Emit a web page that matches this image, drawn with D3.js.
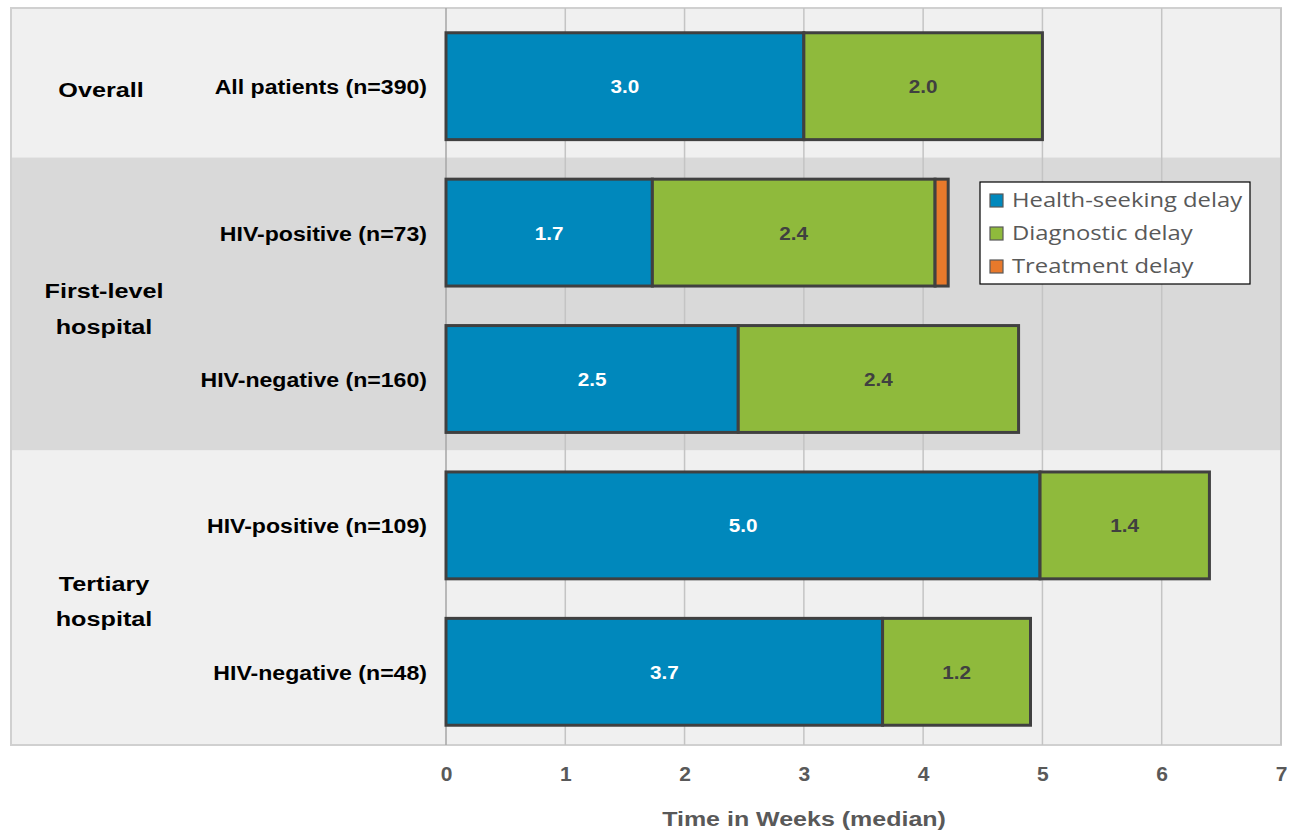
<!DOCTYPE html>
<html>
<head>
<meta charset="utf-8">
<script src="https://cdn.jsdelivr.net/npm/d3@7"></script>
<style>
  body { margin: 0; background: #fff; }
</style>
</head>
<body>
<div id="chart"></div>
<script>
// data
const rowLabels = ["All patients (n=390)", "HIV-positive (n=73)", "HIV-negative (n=160)", "HIV-positive (n=109)", "HIV-negative (n=48)"];
const rowGroup = [0, 1, 1, 2, 2];
const groupLabels = [["Overall"], ["First-level", "hospital"], ["Tertiary", "hospital"]];
const seriesNames = ["Health-seeking delay", "Diagnostic delay", "Treatment delay"];
const healthSeeking = [3.0, 1.73, 2.45, 4.98, 3.66];
const diagnostic = [2.0, 2.37, 2.35, 1.42, 1.24];
const treatment = [0, 0.11, 0, 0, 0];
const xTicks = [0, 1, 2, 3, 4, 5, 6, 7];

const colors = ["#0088bc", "#8fba3c", "#e8792b"];
const labelColors = ["#ffffff", "#404040", "#404040"];

const width = 1302, height = 831;
const plotLeft = 446, plotRight = 1281, plotTop = 13, plotBottom = 745;
const font = "Liberation Sans, Arial, sans-serif";

const svg = d3.select("#chart").append("svg")
    .attr("width", width)
    .attr("height", height);

// the original text is drawn a bit wide, so stretch it around its anchor
function stretch(sel, sx) {
    sel.each(function() {
        let t = d3.select(this);
        let tx = +t.attr("x") || 0, ty = +t.attr("y") || 0;
        t.attr("x", 0).attr("y", 0)
         .attr("transform", `translate(${tx},${ty}) scale(${sx},1)`);
    });
}

const x = d3.scaleLinear().domain([0, 7]).range([plotLeft, plotRight]);
const y = d3.scaleBand().domain(d3.range(rowLabels.length)).range([plotTop, plotBottom]).paddingInner(0.27).paddingOuter(0.135);

// group bands
const groups = groupLabels.map((g, i) => {
    let rows = rowGroup.map((r, j) => r == i ? j : -1).filter(j => j >= 0);
    let y0 = y(rows[0]) - y.step() * y.paddingInner() / 2 - 2;
    let y1 = y(rows[rows.length - 1]) + y.bandwidth() + y.step() * y.paddingInner() / 2;
    if (i == 0) y0 = 8;
    if (i == groupLabels.length - 1) y1 = plotBottom;
    return {lines: g, y0: y0, y1: y1, i: i};
});
groups[0].y1 = groups[1].y0;

svg.append("g").selectAll("rect")
    .data(groups)
    .join("rect")
    .attr("x", 11)
    .attr("width", plotRight - 11)
    .attr("y", d => d.y0)
    .attr("height", d => d.y1 - d.y0)
    .attr("fill", d => d.i == 1 ? "#d9d9d9" : "#f0f0f0");

svg.append("rect")
    .attr("x", 11).attr("y", 8)
    .attr("width", plotRight - 11).attr("height", plotBottom - 8)
    .attr("fill", "none")
    .attr("stroke", "#d0d0d0")
    .attr("stroke-width", 2);

// gridlines
svg.append("g").selectAll("line")
    .data(xTicks)
    .join("line")
    .attr("x1", d => x(d)).attr("x2", d => x(d))
    .attr("y1", 8).attr("y2", plotBottom)
    .attr("stroke", d => d == 0 ? "#a6a6a6" : "#c4c4c4")
    .attr("stroke-width", 1.5);

// stacked bars
const table = rowLabels.map((r, i) => ({label: r, values: [healthSeeking[i], diagnostic[i], treatment[i]]}));
const stack = d3.stack().keys([0, 1, 2]).value((d, k) => d.values[k]);
const series = stack(table);

const layer = svg.append("g").selectAll("g")
    .data(series)
    .join("g")
    .attr("fill", (d, i) => colors[i]);

layer.selectAll("rect")
    .data(d => d.map((s, row) => ({s: s, row: row})).filter(e => e.s[1] - e.s[0] > 0))
    .join("rect")
    .attr("x", d => x(d.s[0]))
    .attr("width", d => x(d.s[1]) - x(d.s[0]))
    .attr("y", d => y(d.row))
    .attr("height", y.bandwidth())
    .attr("stroke", "#404040")
    .attr("stroke-width", 3);

// value labels (not on the thin treatment segment)
series.forEach((ser, k) => {
    if (k == 2) return;
    let lbl = svg.append("g").selectAll("text")
        .data(ser.map((s, row) => ({s: s, row: row})))
        .join("text")
        .attr("x", d => (x(d.s[0]) + x(d.s[1])) / 2)
        .attr("y", d => y(d.row) + y.bandwidth() / 2 + 7)
        .attr("text-anchor", "middle")
        .attr("font-family", font)
        .attr("font-weight", "bold")
        .attr("font-size", 19)
        .attr("fill", labelColors[k])
        .text(d => (d.s[1] - d.s[0]).toFixed(1));
    stretch(lbl, 1.09);
});

// row labels
const rl = svg.append("g").selectAll("text")
    .data(rowLabels)
    .join("text")
    .attr("x", 427)
    .attr("y", (d, i) => y(i) + y.bandwidth() / 2 + 8)
    .attr("text-anchor", "end")
    .attr("font-family", font)
    .attr("font-weight", "bold")
    .attr("font-size", 21)
    .attr("fill", "#000")
    .text(d => d);
stretch(rl, 1.1);

// group labels
const gl = svg.append("g").selectAll("text")
    .data(groups)
    .join("text")
    .attr("x", d => d.i == 0 ? 101 : 104)
    .attr("y", d => (d.y0 + d.y1) / 2 + (d.i == 0 ? 14 : 11))
    .attr("text-anchor", "middle")
    .attr("font-family", font)
    .attr("font-weight", "bold")
    .attr("font-size", 21)
    .attr("fill", "#000");
gl.selectAll("tspan")
    .data(d => d.lines.map((t, j) => ({t: t, j: j, n: d.lines.length})))
    .join("tspan")
    .attr("x", 0)
    .attr("dy", d => d.j == 0 ? (-(d.n - 1) * 0.85) + "em" : "1.7em")
    .text(d => d.t);
stretch(gl, 1.2);

// x axis
const xAxis = svg.append("g")
    .attr("transform", `translate(0,${plotBottom})`)
    .call(d3.axisBottom(x).tickValues(xTicks).tickFormat(d3.format("d")).tickSize(0).tickPadding(21));
xAxis.select(".domain").remove();
xAxis.selectAll("text")
    .attr("font-family", font)
    .attr("font-weight", "bold")
    .attr("font-size", 21)
    .attr("fill", "#595959");

const title = svg.append("text")
    .attr("x", 804)
    .attr("y", 826)
    .attr("text-anchor", "middle")
    .attr("font-family", font)
    .attr("font-weight", "bold")
    .attr("font-size", 21)
    .attr("fill", "#595959")
    .text("Time in Weeks (median)");
stretch(title, 1.19);

// legend
const legend = svg.append("g").attr("transform", "translate(980,182)");
legend.append("rect")
    .attr("width", 270).attr("height", 102)
    .attr("fill", "#fff")
    .attr("stroke", "#000")
    .attr("stroke-width", 1.2);
const li = legend.selectAll("g.item")
    .data(seriesNames)
    .join("g")
    .attr("class", "item")
    .attr("transform", (d, i) => `translate(10,${18 + i * 33})`);
li.append("rect")
    .attr("x", 0).attr("y", -6)
    .attr("width", 13).attr("height", 13)
    .attr("fill", (d, i) => colors[i])
    .attr("stroke", "#595959")
    .attr("stroke-width", 1.2);
const lt = li.append("text")
    .attr("x", 22)
    .attr("y", 7)
    .attr("font-family", "Open Sans, Noto Sans, sans-serif")
    .attr("font-size", 20)
    .attr("fill", "#595959")
    .text(d => d);
stretch(lt, 1.19);
</script>
</body>
</html>
